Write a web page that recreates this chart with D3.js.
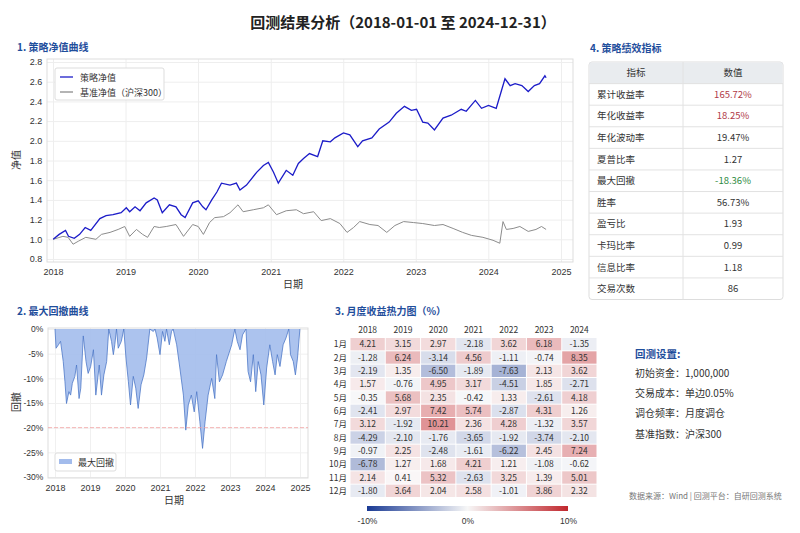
<!DOCTYPE html>
<html lang="zh">
<head>
<meta charset="UTF-8">
<title>回测结果分析</title>
<style>
  body { margin: 0; background: #fff; font-family: "Noto Sans CJK SC", "Noto Sans", sans-serif; }
  svg { display: block; }
  .tick text { fill: #333; }
  .panel-title { fill: #1f4e9c; font-weight: bold; font-size: 10px; }
</style>
</head>
<body>
<svg width="800" height="533"></svg>
<script src="https://d3js.org/d3.v7.min.js"></script>
<script>
// ---- data ----
const stratDates = ["2018-01-02","2018-02-01","2018-03-05","2018-03-20","2018-04-18","2018-05-15","2018-06-12","2018-07-10","2018-08-25","2018-09-25","2018-10-30","2018-12-10",
  "2019-01-05","2019-01-22","2019-02-18","2019-03-15","2019-04-15","2019-05-25","2019-06-10","2019-07-05","2019-08-10","2019-09-12","2019-10-08","2019-10-28","2019-12-05",
  "2020-01-02","2020-01-25","2020-02-10","2020-03-10","2020-04-05","2020-04-28","2020-06-10","2020-07-12","2020-07-30","2020-09-01","2020-10-22","2020-11-25","2020-12-20",
  "2021-01-15","2021-02-08","2021-03-20","2021-04-22","2021-05-20","2021-06-15","2021-07-15","2021-08-25","2021-09-20","2021-10-28","2021-11-20",
  "2022-01-02","2022-02-03","2022-03-15","2022-04-08","2022-05-25","2022-07-01","2022-08-20","2022-09-25","2022-11-05","2022-12-10",
  "2023-01-05","2023-02-05","2023-03-03","2023-04-05","2023-05-18","2023-06-28","2023-08-18","2023-09-12","2023-10-28","2023-11-28",
  "2024-01-02","2024-02-10","2024-03-25","2024-04-20","2024-05-15","2024-06-18","2024-07-20","2024-08-20","2024-09-15","2024-10-12","2024-10-18"];
const stratValues = [1.00,1.05,1.09,1.03,1.01,1.05,1.12,1.09,1.21,1.24,1.25,1.27,
  1.32,1.28,1.33,1.29,1.37,1.42,1.40,1.27,1.35,1.33,1.25,1.22,1.37,
  1.39,1.33,1.30,1.40,1.48,1.57,1.55,1.57,1.50,1.55,1.68,1.75,1.78,
  1.68,1.57,1.70,1.65,1.77,1.82,1.87,1.84,2.00,1.99,2.03,
  2.08,2.06,1.94,2.00,2.03,2.12,2.19,2.28,2.35,2.31,
  2.32,2.19,2.18,2.11,2.23,2.26,2.32,2.30,2.41,2.33,
  2.36,2.33,2.63,2.56,2.58,2.56,2.50,2.56,2.58,2.66,2.64];

const benchDates = ["2018-01-02","2018-02-20","2018-03-18","2018-04-12","2018-05-08","2018-06-15","2018-08-05","2018-09-02","2018-10-15","2018-11-25","2018-12-28",
  "2019-01-22","2019-02-25","2019-03-28","2019-04-22","2019-05-25","2019-06-20","2019-07-25","2019-09-12","2019-10-20","2019-12-05",
  "2020-01-02","2020-01-28","2020-02-28","2020-03-25","2020-05-08","2020-06-10","2020-07-20","2020-08-15","2020-10-05","2020-11-25","2020-12-20",
  "2021-01-30","2021-03-20","2021-05-10","2021-06-15","2021-08-05","2021-09-12","2021-10-28","2021-12-15",
  "2022-01-20","2022-02-22","2022-03-25","2022-05-15","2022-06-25","2022-08-08","2022-09-18","2022-11-01","2022-12-20",
  "2023-02-05","2023-04-05","2023-05-18","2023-07-08","2023-08-25","2023-10-08","2023-12-05",
  "2024-01-25","2024-02-28","2024-03-15","2024-04-01","2024-05-05","2024-06-08","2024-07-20","2024-08-28","2024-09-25","2024-10-18"];
const benchValues = [1.00,1.03,1.02,0.95,0.98,1.02,1.00,1.05,1.07,1.10,1.13,
  1.03,1.10,1.05,1.02,1.13,1.12,1.13,1.15,1.03,1.15,
  1.13,1.05,1.17,1.22,1.23,1.27,1.35,1.28,1.30,1.32,1.35,
  1.25,1.29,1.30,1.26,1.28,1.19,1.21,1.16,
  1.07,1.12,1.18,1.15,1.14,1.07,1.14,1.18,1.17,
  1.16,1.14,1.15,1.11,1.07,1.04,1.02,
  0.99,0.96,1.18,1.10,1.11,1.13,1.08,1.10,1.13,1.10];

const ddDates = ["2018-01-01","2018-01-12","2018-02-06","2018-02-28","2018-03-28","2018-04-15","2018-05-01","2018-05-26","2018-06-13","2018-07-01","2018-07-27","2018-08-14","2018-09-09","2018-09-27","2018-10-23","2018-11-21","2018-12-13",
  "2019-01-08","2019-02-06","2019-03-03","2019-04-08","2019-05-01","2019-05-26","2019-06-24","2019-07-16","2019-08-14","2019-09-02","2019-09-17","2019-10-05","2019-10-23","2019-11-24","2019-12-20",
  "2020-01-12","2020-02-06","2020-02-28","2020-03-28","2020-04-23","2020-05-18","2020-06-17","2020-07-16","2020-08-14","2020-09-17","2020-10-23","2020-11-10","2020-12-02",
  "2021-01-01","2021-01-27","2021-02-21","2021-03-10","2021-04-08","2021-05-01","2021-05-18","2021-06-24","2021-07-27","2021-09-02","2021-09-27","2021-10-23","2021-11-24","2021-12-24",
  "2022-01-19","2022-02-21","2022-03-21","2022-04-16","2022-05-18","2022-06-24","2022-07-27","2022-08-14","2022-09-13","2022-10-16","2022-11-24",
  "2023-01-19","2023-02-21","2023-03-18","2023-04-16","2023-05-12","2023-06-17","2023-07-09","2023-08-04","2023-09-02","2023-09-27","2023-10-23","2023-11-21","2023-12-20",
  "2024-01-19","2024-02-21","2024-03-21","2024-04-16","2024-05-09","2024-06-06","2024-07-09","2024-08-08","2024-09-06","2024-09-24","2024-10-23","2024-11-14","2024-12-06","2024-12-31"];
const ddValues = [0,-3.9,-3.2,-2.5,-6.6,-10.7,-15.1,-12.7,-13.4,-11.0,-9.6,-7.3,-14.1,-12.0,-1.4,-6.6,-9.0,
  -7.6,-4.2,-13.4,-7.3,-13.4,-9.3,-6.6,0,-2.5,-5.2,-3.2,0,-3.9,-2.5,0,
  -5.9,-10.7,-15.4,-9.6,-12.0,-16.1,-11.3,-9.3,-5.9,0,-0.5,0,-1.8,
  -5.2,-0.5,-2.5,0,-3.2,-0.5,0,-3.2,-7.9,-13.4,-20.5,-15.4,-13.4,-16.8,
  -12.7,-18.8,-24.2,-18.8,-13.4,-10.0,-14.1,-5.2,-10.7,-9.3,-6.6,
  -3.2,0,-2.5,-4.2,-1.2,0,-8.6,-10.7,-5.2,-12.7,-6.6,-9.3,-15.4,
  -7.9,-3.2,-6.6,-9.3,-5.2,-7.6,-3.2,-1.8,0,-5.2,-6.6,-9.3,-5.9,0];

const heatYears = [2018,2019,2020,2021,2022,2023,2024];
const heatMonths = ["1月","2月","3月","4月","5月","6月","7月","8月","9月","10月","11月","12月"];
const monthlyReturns = [
  [4.21,-1.28,-2.19,1.57,-0.35,-2.41,3.12,-4.29,-0.97,-6.78,2.14,-1.80],
  [3.15,6.24,1.35,-0.76,5.68,2.97,-1.92,-2.10,2.25,1.27,0.41,3.64],
  [2.97,-3.14,-6.50,4.95,2.35,7.42,10.21,-1.76,-2.48,1.68,5.32,2.04],
  [-2.18,4.56,-1.89,3.17,-0.42,5.74,2.36,-3.65,-1.61,4.21,-2.63,2.58],
  [3.62,-1.11,-7.63,-4.51,1.33,-2.87,4.28,-1.92,-6.22,1.21,3.25,-1.01],
  [6.18,-0.74,2.13,1.85,-2.61,4.31,-1.32,-3.74,2.45,-1.08,1.39,3.86],
  [-1.35,8.35,3.62,-2.71,4.18,1.26,3.57,-2.10,7.24,-0.62,5.01,2.32]
];

const metricNames = ["累计收益率","年化收益率","年化波动率","夏普比率","最大回撤","胜率","盈亏比","卡玛比率","信息比率","交易次数"];
const metricValues = ["165.72%","18.25%","19.47%","1.27","-18.36%","56.73%","1.93","0.99","1.18","86"];

const settingLabels = ["初始资金：","交易成本：","调仓频率：","基准指数："];
const settingValues = ["1,000,000","单边0.05%","月度调仓","沪深300"];

// ---- drawing ----
const svg = d3.select("svg");
const parse = d3.timeParse("%Y-%m-%d");
const yearTicks = d3.range(2018, 2026).map(y => new Date(y, 0, 1));

svg.append("text")
  .attr("x", 403).attr("y", 28)
  .attr("text-anchor", "middle")
  .attr("font-size", 15).attr("font-weight", "bold").attr("fill", "#222")
  .text("回测结果分析（2018-01-01 至 2024-12-31）");

// Panel 1: NAV curve
svg.append("text").attr("class", "panel-title").attr("x", 17).attr("y", 51).text("1. 策略净值曲线");

const x1 = d3.scaleTime().domain([new Date(2018, 0, 1), new Date(2025, 0, 1)]).range([53, 561]);
const y1 = d3.scaleLinear().domain([0.8, 2.8]).range([259, 62]);
const p1 = svg.append("g");

p1.append("g")
  .attr("transform", "translate(0,262)")
  .call(d3.axisBottom(x1).tickValues(yearTicks).tickFormat(d3.timeFormat("%Y")).tickSize(-203).tickSizeOuter(0))
  .call(g => g.select(".domain").remove())
  .call(g => g.selectAll("line").attr("stroke", "#eee"))
  .call(g => g.selectAll("text").attr("font-size", 9).attr("dy", "1.1em"));
p1.append("g")
  .attr("transform", "translate(47,0)")
  .call(d3.axisLeft(y1).ticks(10).tickFormat(d3.format(".1f")).tickSize(-526).tickSizeOuter(0))
  .call(g => g.select(".domain").remove())
  .call(g => g.selectAll("line").attr("stroke", "#eee"))
  .call(g => g.selectAll("text").attr("font-size", 9).attr("dx", "-0.2em"));
p1.append("rect").attr("x", 47).attr("y", 59).attr("width", 526).attr("height", 203)
  .attr("fill", "none").attr("stroke", "#ddd");

const navLine = d3.line().x(d => x1(d[0])).y(d => y1(d[1]));
p1.append("path")
  .datum(benchDates.map((d, i) => [parse(d), benchValues[i]]))
  .attr("d", navLine).attr("fill", "none").attr("stroke", "#8c8c8c").attr("stroke-width", 1);
p1.append("path")
  .datum(stratDates.map((d, i) => [parse(d), stratValues[i]]))
  .attr("d", navLine).attr("fill", "none").attr("stroke", "#1c1cc8").attr("stroke-width", 1.3);

p1.append("text").attr("x", 293).attr("y", 288).attr("text-anchor", "middle")
  .attr("font-size", 10).attr("fill", "#333").text("日期");
p1.append("text").attr("transform", "translate(20,160) rotate(-90)").attr("text-anchor", "middle")
  .attr("font-size", 10).attr("fill", "#333").text("净值");

const leg1 = p1.append("g");
leg1.append("rect").attr("x", 55).attr("y", 68).attr("width", 109).attr("height", 32).attr("rx", 2)
  .attr("fill", "#fff").attr("stroke", "#ddd");
[["策略净值", "#1c1cc8"], ["基准净值（沪深300）", "#8c8c8c"]].forEach(([label, color], i) => {
  const yy = 77 + i * 15;
  leg1.append("line").attr("x1", 60).attr("x2", 73).attr("y1", yy).attr("y2", yy)
    .attr("stroke", color).attr("stroke-width", 1.3);
  leg1.append("text").attr("x", 80).attr("y", yy + 3.5).attr("font-size", 9).attr("fill", "#333").text(label);
});

// Panel 2: drawdown
svg.append("text").attr("class", "panel-title").attr("x", 17).attr("y", 315).text("2. 最大回撤曲线");

const x2 = d3.scaleTime().domain([new Date(2018, 0, 1), new Date(2025, 0, 1)]).range([55, 300]);
const y2 = d3.scaleLinear().domain([-30, 0]).range([477, 329]);
const p2 = svg.append("g");

p2.append("g")
  .attr("transform", "translate(0,478)")
  .call(d3.axisBottom(x2).tickValues(yearTicks).tickFormat(d3.timeFormat("%Y")).tickSize(-150).tickSizeOuter(0))
  .call(g => g.select(".domain").remove())
  .call(g => g.selectAll("line").attr("stroke", "#f0f0f0"))
  .call(g => g.selectAll("text").attr("font-size", 9).attr("dy", "1.1em"));
p2.append("g")
  .attr("transform", "translate(48,0)")
  .call(d3.axisLeft(y2).tickValues(d3.range(0, -35, -5)).tickFormat(d => d + "%").tickSize(-260).tickSizeOuter(0))
  .call(g => g.select(".domain").remove())
  .call(g => g.selectAll("line").attr("stroke", "#f0f0f0"))
  .call(g => g.selectAll("text").attr("font-size", 8.5).attr("dx", "-0.2em"));
p2.append("rect").attr("x", 48).attr("y", 328).attr("width", 260).attr("height", 150)
  .attr("fill", "none").attr("stroke", "#ddd");

const ddData = ddDates.map((d, i) => [parse(d), ddValues[i]]);
p2.append("path").datum(ddData)
  .attr("d", d3.area().x(d => x2(d[0])).y0(y2(0)).y1(d => y2(d[1])))
  .attr("fill", "#a3bcec").attr("fill-opacity", 0.9);
p2.append("path").datum(ddData)
  .attr("d", d3.line().x(d => x2(d[0])).y(d => y2(d[1])))
  .attr("fill", "none").attr("stroke", "#4e78c8").attr("stroke-width", 0.8);
p2.append("line").attr("x1", 48).attr("x2", 308).attr("y1", y2(-20)).attr("y2", y2(-20))
  .attr("stroke", "#f2a0a0").attr("stroke-width", 0.8).attr("stroke-dasharray", "4,2");

p2.append("text").attr("x", 174).attr("y", 504).attr("text-anchor", "middle")
  .attr("font-size", 10).attr("fill", "#333").text("日期");
p2.append("text").attr("transform", "translate(20,402) rotate(-90)").attr("text-anchor", "middle")
  .attr("font-size", 10).attr("fill", "#333").text("回撤");

p2.append("rect").attr("x", 55).attr("y", 453).attr("width", 61).attr("height", 18).attr("rx", 2)
  .attr("fill", "#fff").attr("stroke", "#ddd");
p2.append("rect").attr("x", 59).attr("y", 459).attr("width", 13).attr("height", 5).attr("fill", "#a3bcec");
p2.append("text").attr("x", 78).attr("y", 465.5).attr("font-size", 9).attr("fill", "#333").text("最大回撤");

// Panel 3: monthly heatmap
svg.append("text").attr("class", "panel-title").attr("x", 335).attr("y", 315).text("3. 月度收益热力图（%）");

const hx = d3.scaleBand().domain(heatYears).range([350, 597]);
const hy = d3.scaleBand().domain(heatMonths).range([337.5, 497.5]);
const heatColor = d3.scaleLinear().domain([-10, 0, 10]).range(["#1a3a94", "#f7f7f7", "#c1272d"]).clamp(true);
const p3 = svg.append("g");

heatYears.forEach((yr, ci) => {
  monthlyReturns[ci].forEach((v, ri) => {
    const m = heatMonths[ri];
    p3.append("rect")
      .attr("x", hx(yr) + 0.5).attr("y", hy(m) + 0.5)
      .attr("width", hx.bandwidth() - 1).attr("height", hy.bandwidth() - 1)
      .attr("fill", heatColor(v)).attr("fill-opacity", 0.5);
    p3.append("text")
      .attr("x", hx(yr) + hx.bandwidth() / 2).attr("y", hy(m) + hy.bandwidth() / 2 + 3)
      .attr("text-anchor", "middle").attr("font-size", 8.5).attr("fill", "#333")
      .text(v.toFixed(2));
  });
  p3.append("text").attr("x", hx(yr) + hx.bandwidth() / 2).attr("y", 333)
    .attr("text-anchor", "middle").attr("font-size", 8.5).attr("fill", "#333").text(yr);
});
heatMonths.forEach(m => {
  p3.append("text").attr("x", 347).attr("y", hy(m) + hy.bandwidth() / 2 + 3)
    .attr("text-anchor", "end").attr("font-size", 8.5).attr("fill", "#333").text(m);
});

const cbx = d3.scaleLinear().domain([-10, 10]).range([367, 568]);
const grad = svg.append("defs").append("linearGradient").attr("id", "cb");
[-10, 0, 10].forEach(v => {
  grad.append("stop").attr("offset", ((v + 10) / 20 * 100) + "%").attr("stop-color", heatColor(v));
});
p3.append("rect").attr("x", 367).attr("y", 506).attr("width", 201).attr("height", 5).attr("fill", "url(#cb)");
p3.append("g")
  .attr("transform", "translate(0,511)")
  .call(d3.axisBottom(cbx).tickValues([-10, 0, 10]).tickFormat(d => d + "%").tickSize(0))
  .call(g => g.select(".domain").remove())
  .call(g => g.selectAll("text").attr("font-size", 8.5).attr("dy", "1.2em"));

// Panel 4: metrics table
svg.append("text").attr("class", "panel-title").attr("x", 590).attr("y", 52).text("4. 策略绩效指标");

const tblX = 589, tblW = 194, colDiv = 683;
const rowY = d3.scaleBand().domain(d3.range(metricNames.length + 1)).range([62, 299.5]);
const p4 = svg.append("g");
p4.append("rect").attr("x", tblX).attr("y", 62).attr("width", tblW).attr("height", 237.5).attr("rx", 3)
  .attr("fill", "#fff").attr("stroke", "#ddd");
p4.append("rect").attr("x", tblX + 0.5).attr("y", 62.5).attr("width", tblW - 1).attr("height", rowY.bandwidth())
  .attr("fill", "#e9ecef");
d3.range(1, metricNames.length + 1).forEach(i => {
  p4.append("line").attr("x1", tblX).attr("x2", tblX + tblW).attr("y1", rowY(i)).attr("y2", rowY(i))
    .attr("stroke", "#e2e2e2");
});
p4.append("line").attr("x1", colDiv).attr("x2", colDiv).attr("y1", 62).attr("y2", 299.5).attr("stroke", "#e2e2e2");

const valueColor = (name) => name === "累计收益率" || name === "年化收益率" ? "#b03a48"
  : name === "最大回撤" ? "#2e8b3e" : "#333";
p4.append("text").attr("x", 636).attr("y", rowY(0) + rowY.bandwidth() / 2 + 3.5)
  .attr("text-anchor", "middle").attr("font-size", 9.5).attr("fill", "#333").text("指标");
p4.append("text").attr("x", 733).attr("y", rowY(0) + rowY.bandwidth() / 2 + 3.5)
  .attr("text-anchor", "middle").attr("font-size", 9.5).attr("fill", "#333").text("数值");
metricNames.forEach((name, i) => {
  const yy = rowY(i + 1) + rowY.bandwidth() / 2 + 3.5;
  p4.append("text").attr("x", 597).attr("y", yy).attr("font-size", 9.5).attr("fill", "#333").text(name);
  p4.append("text").attr("x", 733).attr("y", yy).attr("text-anchor", "middle")
    .attr("font-size", 9.5).attr("fill", valueColor(name)).text(metricValues[i]);
});

// settings & footnote
svg.append("text").attr("x", 635).attr("y", 358).attr("font-size", 10.5).attr("font-weight", "bold")
  .attr("fill", "#1f4e9c").text("回测设置:");
settingLabels.forEach((lab, i) => {
  svg.append("text").attr("x", 635).attr("y", 377 + i * 20.2).attr("font-size", 10).attr("fill", "#333")
    .text(lab + settingValues[i]);
});
svg.append("text").attr("x", 629).attr("y", 499).attr("font-size", 8).attr("fill", "#777")
  .text("数据来源：Wind  |  回测平台：自研回测系统");
</script>
</body>
</html>
